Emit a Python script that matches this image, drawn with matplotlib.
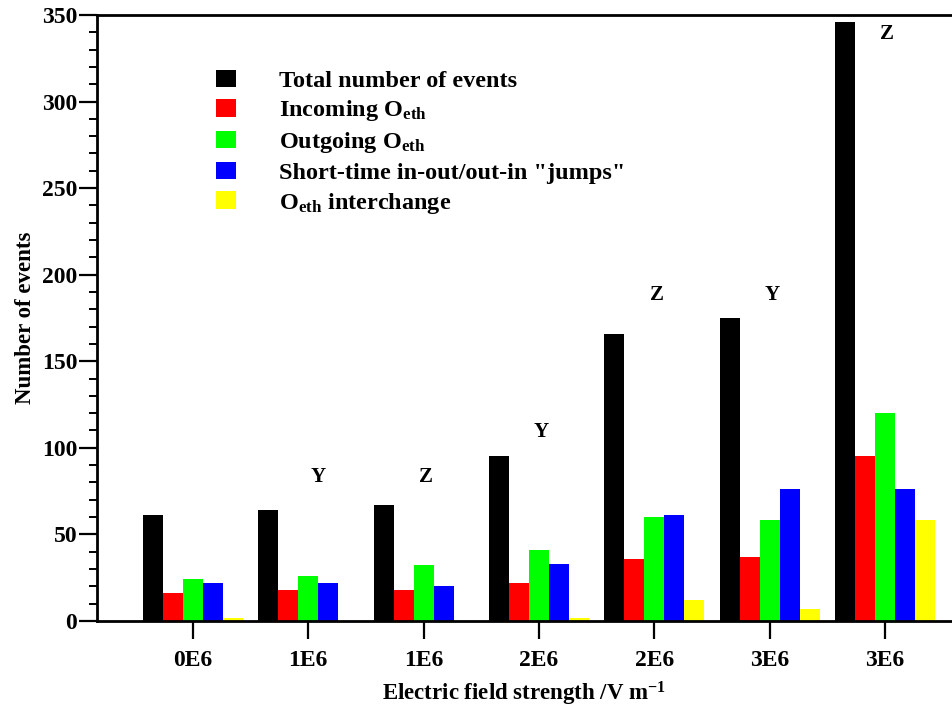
import numpy as np
import matplotlib
matplotlib.use('Agg')
import matplotlib.pyplot as plt
from matplotlib.ticker import MultipleLocator

plt.rcParams['font.family'] = 'Liberation Serif'
plt.rcParams['font.weight'] = 'bold'
plt.rcParams['mathtext.fontset'] = 'custom'
plt.rcParams['mathtext.rm'] = 'Liberation Serif:bold'
plt.rcParams['mathtext.bf'] = 'Liberation Serif:bold'
plt.rcParams['mathtext.default'] = 'bf'

# field strengths (tick labels) and event counts per category
fields = ['0E6', '1E6', '1E6', '2E6', '2E6', '3E6', '3E6']
total = [61, 64, 67, 95, 166, 175, 346]
incoming = [16, 18, 18, 22, 36, 37, 95]
outgoing = [24, 26, 32, 41, 60, 58, 120]
jumps = [22, 22, 20, 33, 61, 76, 76]
interchange = [1.5, 0, 0, 1.5, 12, 7, 58]

series = [total, incoming, outgoing, jumps, interchange]
names = ['Total number of events',
         r'Incoming O$_{eth}$',
         r'Outgoing O$_{eth}$',
         'Short-time in-out/out-in "jumps"',
         r'O$_{eth}$ interchange']
colors = ['#000000', '#ff0000', '#00ff00', '#0000ff', '#ffff00']

# conformer tags above each group: (group, tag, height)
tags = [(1, 'Y', 83), (2, 'Z', 83), (3, 'Y', 109), (4, 'Z', 188), (5, 'Y', 188), (6, 'Z', 339)]

fig = plt.figure(figsize=(9.52, 7.07), dpi=100)
ax = fig.add_axes([0.1016, 0.1218, 0.8984, 0.8570])

x = np.arange(len(fields))
w = 0.1735
for i, (vals, name, c) in enumerate(zip(series, names, colors)):
    ax.bar(x + (i - 2) * w, vals, width=w, color=c, label=name, linewidth=0)

for g, t, h in tags:
    ax.text(g + (0.09 if g == 1 else 0.02), h, t, ha='center', va='center',
            fontsize=15, fontweight='bold')

ax.set_xlim(-0.833, 6.58)
ax.set_ylim(0, 350)
ax.set_xticks(x)
ax.set_xticklabels(fields)
ax.yaxis.set_major_locator(MultipleLocator(50))
ax.yaxis.set_minor_locator(MultipleLocator(10))

ax.spines['right'].set_visible(False)
for s in ['left', 'bottom', 'top']:
    ax.spines[s].set_linewidth(2)
ax.tick_params(axis='y', which='major', length=13, width=1.6, labelsize=17, pad=1)
ax.tick_params(axis='y', which='minor', length=6, width=1.4)
ax.tick_params(axis='x', which='major', length=13, width=1.6, labelsize=17, pad=8)

ax.set_xlabel(r'Electric field strength /V m$^{-1}$', fontsize=16.5, fontweight='bold', labelpad=6)
ax.set_ylabel('Number of events', fontsize=16.5, fontweight='bold', labelpad=4)

ax.legend(loc='upper left', bbox_to_anchor=(0.139, 0.91), frameon=False, fontsize=17.5,
          handlelength=0.82, handleheight=0.75, handletextpad=1.8, labelspacing=0.27,
          borderaxespad=0, borderpad=0)

plt.savefig('out.png', dpi=100)
